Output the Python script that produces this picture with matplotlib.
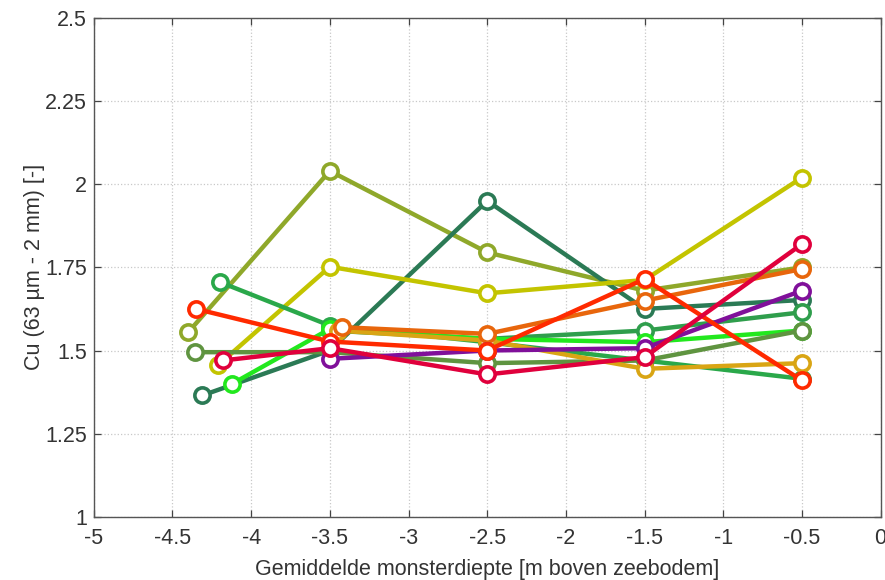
import matplotlib.pyplot as plt

plt.rcParams["font.family"] = ["Liberation Sans", "DejaVu Sans"]

# Series: depth (x) and Cu value (y)
olive_x = [-4.40, -3.5, -2.5, -1.5, -0.5]
olive_y = [1.555, 2.04, 1.795, 1.68, 1.75]

teal_x = [-4.31, -3.5, -2.5, -1.5, -0.5]
teal_y = [1.365, 1.50, 1.95, 1.625, 1.652]

yellow_x = [-4.21, -3.5, -2.5, -1.5, -0.5]
yellow_y = [1.456, 1.752, 1.672, 1.712, 2.02]

medgreen_x = [-4.20, -3.5, -2.5, -1.5, -0.5]
medgreen_y = [1.706, 1.575, 1.525, 1.47, 1.415]

green2_x = [-3.5, -2.5, -1.5, -0.5]
green2_y = [1.56, 1.535, 1.56, 1.615]

lime_x = [-4.12, -3.5, -2.5, -1.5, -0.5]
lime_y = [1.40, 1.565, 1.535, 1.525, 1.56]

dullgreen_x = [-4.36, -3.5, -2.5, -1.5, -0.5]
dullgreen_y = [1.495, 1.495, 1.462, 1.47, 1.56]

gold_x = [-3.45, -2.5, -1.5, -0.5]
gold_y = [1.56, 1.53, 1.445, 1.462]

orange_x = [-3.42, -2.5, -1.5, -0.5]
orange_y = [1.57, 1.55, 1.65, 1.745]

purple_x = [-3.5, -2.5, -1.5, -0.5]
purple_y = [1.475, 1.50, 1.507, 1.68]

red_x = [-4.35, -3.5, -2.5, -1.5, -0.5]
red_y = [1.625, 1.527, 1.50, 1.715, 1.41]

crimson_x = [-4.18, -3.5, -2.5, -1.5, -0.5]
crimson_y = [1.47, 1.507, 1.428, 1.48, 1.82]

series = [
    (olive_x, olive_y, "#8fa82a"),
    (teal_x, teal_y, "#2b7a55"),
    (yellow_x, yellow_y, "#c3c400"),
    (medgreen_x, medgreen_y, "#2aa84a"),
    (green2_x, green2_y, "#2f9e4c"),
    (lime_x, lime_y, "#22e81e"),
    (dullgreen_x, dullgreen_y, "#5f9440"),
    (gold_x, gold_y, "#d9a514"),
    (orange_x, orange_y, "#e8660c"),
    (purple_x, purple_y, "#80109a"),
    (red_x, red_y, "#ff2a00"),
    (crimson_x, crimson_y, "#e0003c"),
]

xticks = [-5, -4.5, -4, -3.5, -3, -2.5, -2, -1.5, -1, -0.5, 0]
xticklabels = ["-5", "-4.5", "-4", "-3.5", "-3", "-2.5", "-2", "-1.5", "-1", "-0.5", "0"]
yticks = [1, 1.25, 1.5, 1.75, 2, 2.25, 2.5]
yticklabels = ["1", "1.25", "1.5", "1.75", "2", "2.25", "2.5"]

fig = plt.figure(figsize=(8.85, 5.8), dpi=100)
ax = fig.add_axes([0.106, 0.109, 0.889, 0.86])

for xs, ys, col in series:
    ax.plot(xs, ys, "-o", color=col, lw=3.2, ms=11, mew=2.6, mfc="white", mec=col)

ax.set_xlim(-5, 0)
ax.set_ylim(1, 2.5)
ax.set_xticks(xticks)
ax.set_xticklabels(xticklabels)
ax.set_yticks(yticks)
ax.set_yticklabels(yticklabels)
ax.grid(True, linestyle=":", color="#c8c8c8", lw=0.9)
ax.set_axisbelow(True)
ax.tick_params(direction="in", length=5, width=0.9, colors="#444444",
               labelcolor="#333333", labelsize=15.5, top=True, right=True)
ax.tick_params(axis="x", pad=8)
ax.tick_params(axis="y", pad=5)
for sp in ax.spines.values():
    sp.set_color("#555555")
    sp.set_linewidth(1.0)

ax.set_xlabel("Gemiddelde monsterdiepte [m boven zeebodem]", fontsize=15.5,
              color="#333333", labelpad=7)
ax.set_ylabel("Cu (63 µm - 2 mm) [-]", fontsize=15.5, color="#333333", labelpad=0)

fig.savefig("out.png", dpi=100)
